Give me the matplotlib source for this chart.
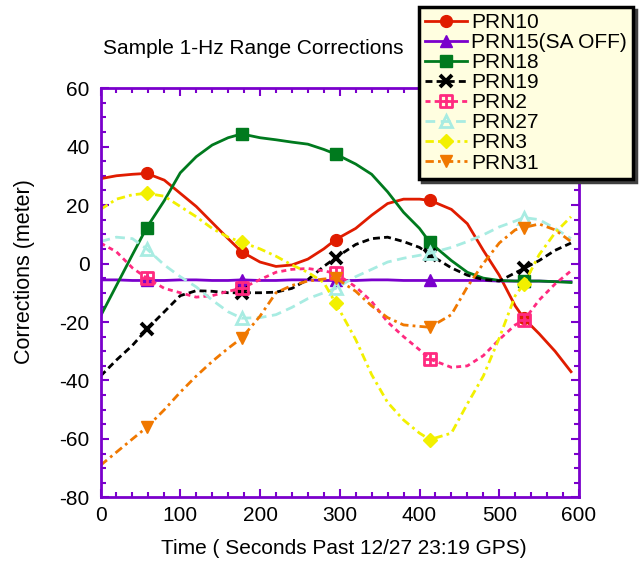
import matplotlib
matplotlib.use('Agg')
import matplotlib.pyplot as plt
from matplotlib.path import Path
from matplotlib.ticker import MultipleLocator

plt.rcParams['font.family'] = ['Liberation Sans', 'DejaVu Sans']
plt.rcParams['axes.unicode_minus'] = False
plt.rcParams['lines.scale_dashes'] = False

# ---------------- data ----------------
time_s = [0, 20, 40, 58, 80, 100, 120, 140, 160, 177, 200, 220, 240, 260, 280,
          295, 320, 340, 360, 380, 400, 413, 440, 460, 480, 500, 520, 531, 550,
          570, 590]
marker_idx = [3, 9, 15, 21, 27]

prn10 = [29, 30, 30.5, 30.8, 28.5, 24, 19.5, 14, 8.5, 4, 0.5, -1, -0.5, 1.5, 5,
         8.2, 12, 16.5, 20.5, 22, 22, 21.6, 18.5, 13.6, 4.5, -4, -14.5, -18.8,
         -24, -30, -37]
prn15 = [-5.6, -5.6, -5.8, -5.8, -5.8, -5.6, -5.6, -5.8, -5.8, -5.6, -5.8, -5.8,
         -5.6, -5.6, -5.8, -5.8, -5.8, -5.6, -5.6, -5.8, -5.8, -5.8, -5.8, -5.8,
         -5.8, -6.0, -6.0, -6.0, -6.0, -6.2, -6.2]
prn18 = [-18, -7.5, 3, 12.3, 21.5, 31, 36.5, 40.5, 43, 44.3, 43, 42.3, 41.5,
         40.8, 39, 37.4, 34, 30.5, 24.5, 17.5, 12, 7.2, 1, -3, -5, -5.8, -6, -6,
         -6, -6.2, -6.5]
prn19 = [-38.5, -33, -28, -22.5, -16.5, -11, -9.3, -9.5, -10, -10, -10, -9.8,
         -8.5, -5.5, -1, 2, 6.5, 8.5, 9, 7.5, 5.5, 3, -1.5, -4, -5.5, -6, -3.2,
         -1.7, 1, 4.5, 7]
prn2 = [7, 4, -1.5, -5, -8.5, -10, -11.5, -11, -9.5, -8.5, -5.5, -3, -2, -1.7,
        -2.5, -3.4, -8, -13, -20, -25, -29.5, -32.7, -35.5, -35, -31.5, -26, -21,
        -19.4, -12.5, -7, -2.5]
prn27 = [7.5, 9, 8.5, 5, -0.5, -4.5, -8, -12.5, -16.5, -18.7, -18.5, -17.5, -15,
         -12, -10, -8.5, -4.5, -2, 0.5, 1.8, 2.8, 3.5, 5.5, 7.5, 9.8, 12.5, 14.5,
         15.7, 15, 12, 8.5]
prn3 = [18.5, 22, 23.5, 24, 23, 19.5, 16, 12, 9, 7.3, 5, 2.5, -0.5, -3, -6.5,
        -13.6, -26, -38, -47.5, -53.5, -58, -60.2, -58, -48, -38.5, -25.5, -11,
        -7, 3, 10.5, 16]
prn31 = [-69, -64.5, -60, -56, -50, -44, -38.5, -33.5, -29, -25.5, -18, -10,
         -7.5, -6, -5.3, -5, -9.5, -14.5, -18.5, -21, -21.5, -21.8, -17.5, -8,
         0, 7, 11.5, 12.3, 13.5, 11.5, 7.5]

labels = ['PRN10', 'PRN15(SA OFF)', 'PRN18', 'PRN19', 'PRN2', 'PRN27', 'PRN3', 'PRN31']
series = [prn10, prn15, prn18, prn19, prn2, prn27, prn3, prn31]

# ---------------- styles ----------------
purple = '#7a00cc'
grid_sq = Path([(-1, -1), (1, -1), (1, 1), (-1, 1), (-1, -1),
                (0, -1), (0, 1), (-1, 0), (1, 0)],
               [Path.MOVETO, Path.LINETO, Path.LINETO, Path.LINETO, Path.CLOSEPOLY,
                Path.MOVETO, Path.LINETO, Path.MOVETO, Path.LINETO])

styles = [
    dict(color='#e01c00', ls='-', marker='o', ms=8.5, mfc='#e01c00', mec='#e01c00', mew=1),
    dict(color=purple, ls='-', marker='^', ms=9, mfc=purple, mec=purple, mew=1),
    dict(color='#007a1e', ls='-', marker='s', ms=8.5, mfc='#007a1e', mec='#007a1e', mew=1),
    dict(color='black', ls=(0, (5, 3)), marker='x', ms=8.5, mfc='black', mec='black', mew=2.8),
    dict(color='#ff2a80', ls=(0, (3.6, 3)), marker=grid_sq, ms=9, mfc='none', mec='#ff2a80', mew=2),
    dict(color='#a8ece2', ls=(0, (7, 4)), marker='^', ms=9, mfc='none', mec='#a8ece2', mew=2),
    dict(color='#f2f000', ls=(0, (6, 3, 2, 3)), marker='D', ms=7.5, mfc='#f2f000', mec='#f2f000', mew=1),
    dict(color='#f07800', ls=(0, (6, 3, 2, 3)), marker='v', ms=9, mfc='#f07800', mec='#f07800', mew=1),
]

fig = plt.figure(figsize=(6.39, 5.70), dpi=100)
ax = fig.add_axes([0.1573, 0.1272, 0.7488, 0.7184])

handles = []
for lab, vals, st in zip(labels, series, styles):
    h, = ax.plot(time_s, vals, lw=2, markevery=marker_idx, label=lab,
                 clip_on=True, **st)
    handles.append(h)

ax.set_xlim(0, 600)
ax.set_ylim(-80, 60)
ax.xaxis.set_major_locator(MultipleLocator(100))
ax.xaxis.set_minor_locator(MultipleLocator(20))
ax.yaxis.set_major_locator(MultipleLocator(20))
ax.yaxis.set_minor_locator(MultipleLocator(5))
ax.tick_params(which='both', direction='in', top=True, right=True,
               color=purple, width=1.5, labelsize=15, labelcolor='black')
ax.tick_params(which='major', length=6)
ax.tick_params(which='minor', length=3.5)
ax.tick_params(axis='x', pad=6)
ax.tick_params(axis='y', pad=8)
for sp in ax.spines.values():
    sp.set_color(purple)
    sp.set_linewidth(2)

fig.text(253 / 639, 1 - 48 / 570, 'Sample 1-Hz Range Corrections',
         ha='center', va='center', fontsize=15)
fig.text(344 / 639, 1 - 548 / 570, 'Time ( Seconds Past 12/27 23:19 GPS)',
         ha='center', va='center', fontsize=15)
fig.text(25 / 639, 1 - 272 / 570, 'Corrections (meter)', rotation=90,
         ha='center', va='center', fontsize=15.5)

leg = fig.legend(handles=handles, loc='upper left',
                 bbox_to_anchor=(419 / 639, 1 - 7 / 570),
                 bbox_transform=fig.transFigure,
                 fontsize=15, labelspacing=0.05, handlelength=2.0,
                 handletextpad=0.2, borderpad=0.3, borderaxespad=0,
                 fancybox=False, framealpha=1, facecolor='#fffee0',
                 edgecolor='black', shadow={'color': '0.25', 'alpha': 1})
leg.get_frame().set_linewidth(2.5)

fig.savefig('out.png', dpi=100)
